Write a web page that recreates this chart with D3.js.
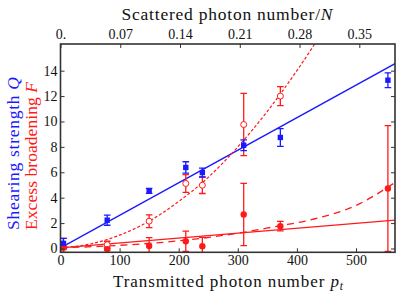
<!DOCTYPE html>
<html>
<head>
<meta charset="utf-8">
<script src="https://cdn.jsdelivr.net/npm/d3@7"></script>
<style>
  body { margin: 0; background: #fff; }
  svg { display: block; }
</style>
</head>
<body>
<div id="chart"></div>
<script>
// data
// transmitted photon number of each measurement
const ptData = [5, 79, 150, 212, 240, 310, 372, 554];
// shearing strength Q (blue squares)
const Qvals = [0.4, 2.23, 4.54, 6.38, 5.98, 8.13, 8.74, 13.25];
const Qerr = [0.4, 0.4, 0.2, 0.45, 0.35, 0.42, 0.7, 0.58];
// excess broadening F, filled circles
const Fvals = [0.05, -0.05, 0.2, 0.57, 0.18, 2.68, 1.76, 4.72];
const Ferr = [0.1, 0.1, 0.65, 0.8, 0.7, 2.45, 0.38, 4.95];
// excess broadening, open circles (no point at the last pt)
const ptOpen = [5, 79, 150, 212, 240, 310, 372];
const Gvals = [0.25, 0.3, 2.15, 5.12, 4.98, 9.76, 12.0];
const Gerr = [0.55, 0.27, 0.5, 0.7, 0.65, 2.45, 0.75];

// fit lines / curves
const qLinePt = [0, 566], qLine = [0.05, 14.55];
const fLinePt = [0, 566], fLine = [0.05, 2.23];
const dotPt = [0, 50, 100, 150, 200, 250, 300, 350, 400, 440];
const dotVals = [0.05, 0.35, 1.05, 2.15, 3.7, 5.6, 8.0, 10.8, 14.0, 16.8];
const dashPt = [0, 100, 200, 300, 370, 414, 440, 496, 566];
const dashVals = [0.05, 0.25, 0.6, 1.2, 1.78, 2.15, 2.45, 3.3, 5.2];

// ticks
const bottomTicks = [0, 100, 200, 300, 400, 500];
const topTicks = [0, 0.07, 0.14, 0.21, 0.28, 0.35];
const topLabels = ["0.", "0.07", "0.14", "0.21", "0.28", "0.35"];
const leftTicks = [0, 2, 4, 6, 8, 10, 12, 14];

const width = 415, height = 291;
const margin = {left: 60.5, right: 20, top: 44, bottom: 38.7};
const blue = "#1a1aff", red = "#ff1a1a", axisCol = "#333";
const serif = "'Liberation Serif', 'Times New Roman', Tinos, 'DejaVu Serif', serif";
const ptMax = 566, nPerPt = 0.35 / 505.6;

const x = d3.scaleLinear().domain([0, ptMax]).range([margin.left, width - margin.right]);
const xTop = d3.scaleLinear().domain([0, ptMax * nPerPt]).range([margin.left, width - margin.right]);
const y = d3.scaleLinear().domain([-0.3, 16.1]).range([height - margin.bottom, margin.top]);

const svg = d3.select("#chart").append("svg")
    .attr("width", width)
    .attr("height", height)
    .attr("font-family", serif);

svg.append("clipPath").attr("id", "clip")
  .append("rect")
    .attr("x", margin.left).attr("y", margin.top)
    .attr("width", width - margin.left - margin.right)
    .attr("height", height - margin.top - margin.bottom);

const plot = svg.append("g").attr("clip-path", "url(#clip)");

const line = d3.line().x(d => x(d[0])).y(d => y(d[1]));
const smooth = d3.line().x(d => x(d[0])).y(d => y(d[1])).curve(d3.curveMonotoneX);

plot.append("path")
    .datum(d3.zip(qLinePt, qLine))
    .attr("d", line).attr("fill", "none")
    .attr("stroke", blue).attr("stroke-width", 1.3);
plot.append("path")
    .datum(d3.zip(fLinePt, fLine))
    .attr("d", line).attr("fill", "none")
    .attr("stroke", red).attr("stroke-width", 1.3);
plot.append("path")
    .datum(d3.zip(dotPt, dotVals))
    .attr("d", smooth).attr("fill", "none")
    .attr("stroke", red).attr("stroke-width", 1.2)
    .attr("stroke-dasharray", "3,2");
plot.append("path")
    .datum(d3.zip(dashPt, dashVals))
    .attr("d", smooth).attr("fill", "none")
    .attr("stroke", red).attr("stroke-width", 1.3)
    .attr("stroke-dasharray", "7,5");

// error bars helper
function errorBars(g, xs, ys, es, col) {
  const data = d3.zip(xs, ys, es);
  const cap = 3.3;
  const eb = g.append("g").selectAll("g").data(data).enter().append("g")
      .attr("stroke", col).attr("stroke-width", 1.3);
  eb.append("line")
      .attr("x1", d => x(d[0])).attr("x2", d => x(d[0]))
      .attr("y1", d => y(d[1] - d[2])).attr("y2", d => y(d[1] + d[2]));
  eb.append("line")
      .attr("x1", d => x(d[0]) - cap).attr("x2", d => x(d[0]) + cap)
      .attr("y1", d => y(d[1] + d[2])).attr("y2", d => y(d[1] + d[2]));
  eb.append("line")
      .attr("x1", d => x(d[0]) - cap).attr("x2", d => x(d[0]) + cap)
      .attr("y1", d => y(d[1] - d[2])).attr("y2", d => y(d[1] - d[2]));
}

errorBars(plot, ptOpen, Gvals, Gerr, red);
errorBars(plot, ptData, Fvals, Ferr, red);
errorBars(plot, ptData, Qvals, Qerr, blue);

plot.append("g").selectAll("circle")
    .data(d3.zip(ptOpen, Gvals)).enter().append("circle")
    .attr("cx", d => x(d[0])).attr("cy", d => y(d[1]))
    .attr("r", 3).attr("fill", "#fff")
    .attr("stroke", red).attr("stroke-width", 1);

plot.append("g").selectAll("circle")
    .data(d3.zip(ptData, Fvals)).enter().append("circle")
    .attr("cx", d => x(d[0])).attr("cy", d => y(d[1]))
    .attr("r", 3.2).attr("fill", red);

plot.append("g").selectAll("rect")
    .data(d3.zip(ptData, Qvals)).enter().append("rect")
    .attr("x", d => x(d[0]) - 2.7).attr("y", d => y(d[1]) - 2.7)
    .attr("width", 5.4).attr("height", 5.4).attr("fill", blue);

// axes (ticks pointing inward)
const tk = 4;
function styleAxis(g) {
  g.attr("font-family", serif).attr("font-size", 14);
  g.select(".domain").remove();
  g.selectAll(".tick line").attr("stroke", axisCol).attr("stroke-width", 1);
  g.selectAll(".tick text").attr("fill", "#111");
}
svg.append("g")
    .attr("transform", `translate(0,${height - margin.bottom})`)
    .call(d3.axisBottom(x).tickValues(bottomTicks).tickSize(-tk).tickPadding(3).tickFormat(d3.format("d")))
    .call(styleAxis);
svg.append("g")
    .attr("transform", `translate(0,${margin.top})`)
    .call(d3.axisTop(xTop).tickValues(topTicks).tickSize(-tk).tickPadding(5).tickFormat((d, i) => topLabels[i]))
    .call(styleAxis);
svg.append("g")
    .attr("transform", `translate(${margin.left},0)`)
    .call(d3.axisLeft(y).tickValues(leftTicks).tickSize(-tk).tickPadding(3).tickFormat(d3.format("d")))
    .call(styleAxis);
svg.append("g")
    .attr("transform", `translate(${width - margin.right},0)`)
    .call(d3.axisRight(y).tickValues(leftTicks).tickSize(-tk).tickFormat(""))
    .call(styleAxis);

// frame
svg.append("rect")
    .attr("x", margin.left).attr("y", margin.top)
    .attr("width", width - margin.left - margin.right)
    .attr("height", height - margin.top - margin.bottom)
    .attr("fill", "none").attr("stroke", axisCol).attr("stroke-width", 1.6);

// titles (stretched to the width of the original lettering)
const topTitle = svg.append("text")
    .attr("x", 121.5).attr("y", 19.5)
    .attr("font-size", 17.5).attr("fill", "#111")
    .attr("textLength", 211).attr("lengthAdjust", "spacing");
topTitle.append("tspan").text("Scattered photon number/");
topTitle.append("tspan").attr("font-style", "italic").text("N");

const botTitle = svg.append("text")
    .attr("x", 113).attr("y", 286.5)
    .attr("font-size", 17).attr("fill", "#111")
    .attr("textLength", 230).attr("lengthAdjust", "spacing");
botTitle.append("tspan").text("Transmitted photon number ");
botTitle.append("tspan").attr("font-style", "italic").text("p");
botTitle.append("tspan").attr("font-style", "italic").attr("font-size", 11.5).attr("dy", 3).text("t");

const qTitle = svg.append("text")
    .attr("transform", "translate(19,230) rotate(-90)")
    .attr("font-size", 17.5).attr("fill", blue)
    .attr("textLength", 153).attr("lengthAdjust", "spacing");
qTitle.append("tspan").text("Shearing strength ");
qTitle.append("tspan").attr("font-style", "italic").text("Q");

const fTitle = svg.append("text")
    .attr("transform", "translate(37,230) rotate(-90)")
    .attr("font-size", 17.5).attr("fill", red)
    .attr("textLength", 148).attr("lengthAdjust", "spacing");
fTitle.append("tspan").text("Excess broadening ");
fTitle.append("tspan").attr("font-style", "italic").text("F");
</script>
</body>
</html>
